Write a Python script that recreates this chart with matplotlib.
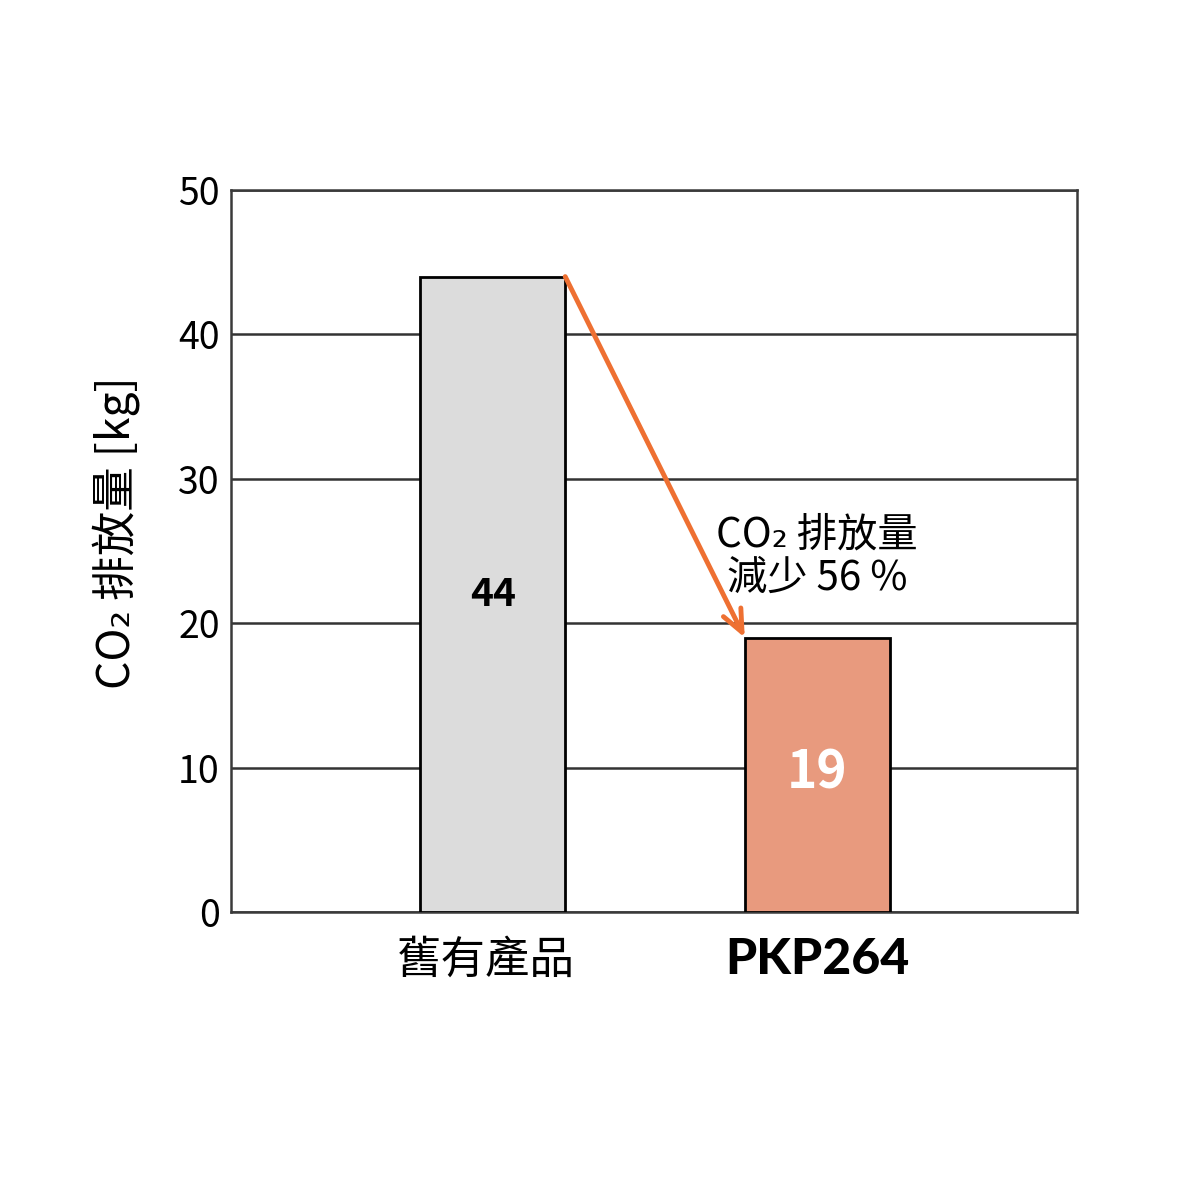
import matplotlib
matplotlib.use("Agg")
import matplotlib.pyplot as plt

# data
categories = ["舊有產品", "PKP264"]
values = [44, 19]
bar_colors = ["#dcdcdc", "#e89a7e"]
value_label_colors = ["black", "white"]
yticks = [0, 10, 20, 30, 40, 50]
reduction_pct = 56

narrow = ["Noto Sans CJK TC", "DejaVu Sans"]
cjk = ["Noto Sans CJK TC", "DejaVu Sans"]

fig = plt.figure(figsize=(12, 12), dpi=100)
ax = fig.add_axes([0.1925, 0.24, 0.705, 0.6017])

x = list(range(len(categories)))
bars = ax.bar(x, values, width=0.447, color=bar_colors,
              edgecolor="black", linewidth=2, zorder=3)

ax.set_xlim(-0.806, 1.80)
ax.set_ylim(0, 50)
ax.set_yticks(yticks)
ax.set_yticklabels([str(t) for t in yticks], family=narrow, fontsize=27)
ax.tick_params(axis="y", length=0, pad=8)
ax.tick_params(axis="x", length=0)
ax.set_xticks(x)
ax.set_xticklabels([])

# gridlines
ax.yaxis.grid(True, color="#333333", linewidth=1.8, zorder=0)
for s in ax.spines.values():
    s.set_color("#3a3a3a")
    s.set_linewidth(1.8)

ax.set_ylabel("CO₂ 排放量 [kg]", family=narrow, fontsize=32)
ax.yaxis.set_label_coords(-0.108, 0.525)

# category labels
ax.text(-0.02, -3.3, categories[0], ha="center", va="center",
        family=cjk, fontsize=32)
ax.text(1, -3.3, categories[1], ha="center", va="center",
        family=["Lato", "DejaVu Sans"], fontweight="black", fontsize=36)

# value labels inside bars
ax.text(0, 22, str(values[0]), ha="center", va="center", family=narrow,
        fontweight="bold", fontsize=28, color=value_label_colors[0], zorder=4)
ax.text(1, 9.6, str(values[1]), ha="center", va="center", family=narrow,
        fontweight="bold", fontsize=37, color=value_label_colors[1], zorder=4)

# arrow from top of old bar to top of new bar
half = 0.447 / 2
ax.annotate("", xy=(1 - half, values[1]), xytext=(half, values[0]),
            arrowprops=dict(arrowstyle="->,head_length=1.6,head_width=0.7",
                            color="#ee7032", lw=3.5, shrinkA=0, shrinkB=0),
            zorder=5)

ax.text(1.0, 24.6, "CO₂ 排放量\n減少 %d %%" % reduction_pct, ha="center",
        va="center", family=narrow, fontsize=29, linespacing=1.05, zorder=5)

fig.savefig("out.png", dpi=100, facecolor="white")
